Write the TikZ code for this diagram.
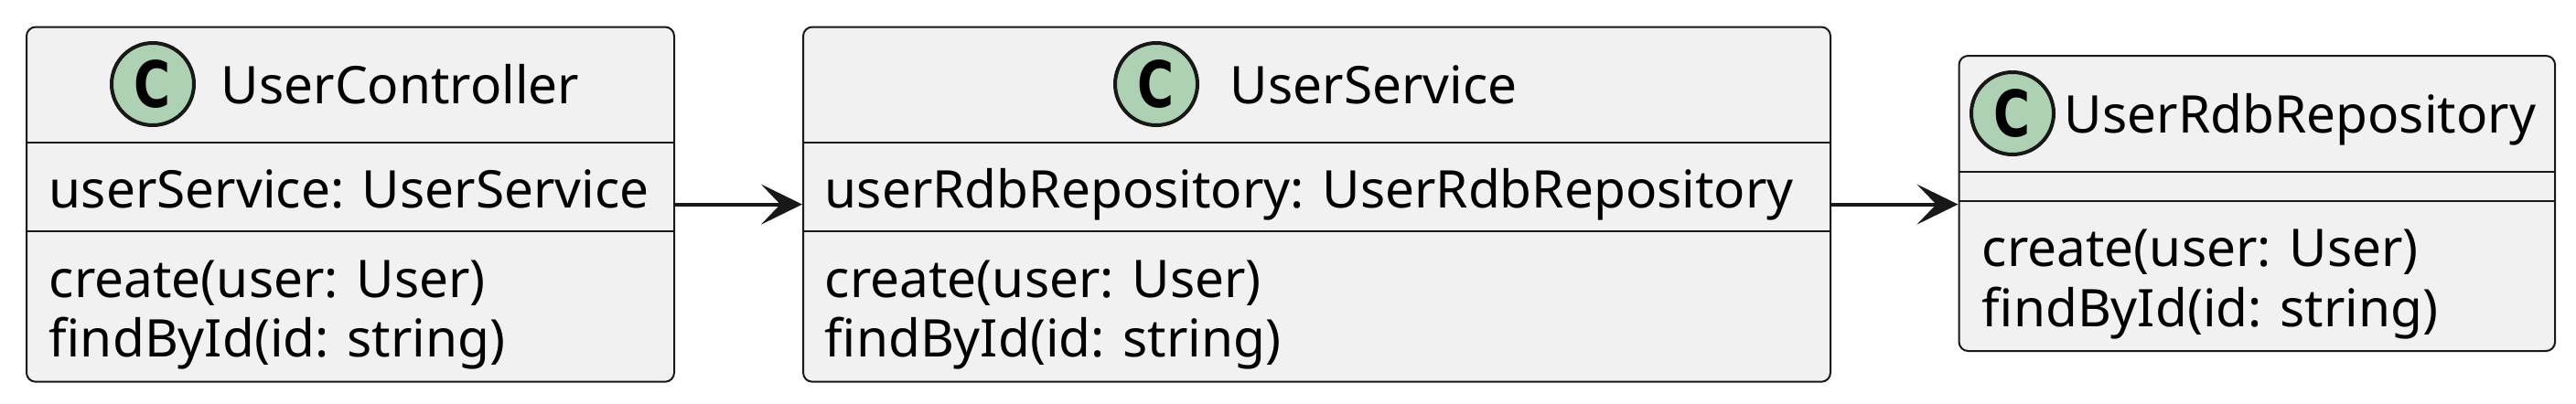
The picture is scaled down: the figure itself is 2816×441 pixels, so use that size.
\documentclass[tikz,border=0pt]{standalone}
\usepackage{fontspec}
\usepackage{graphicx}
\setmainfont{Noto Sans}
\newfontfamily\spotfont{DejaVu Sans}
\usetikzlibrary{arrows.meta}
\definecolor{boxfill}{HTML}{F1F1F1}
\definecolor{boxline}{HTML}{181818}
\definecolor{spotfill}{HTML}{ADD1B2}
\tikzset{
  classbox/.style={draw=boxline, line width=0.5pt, fill=boxfill, rounded corners=2.5pt,
    rectangle, anchor=north west, inner sep=0pt},
  sepline/.style={draw=boxline, line width=0.5pt},
  spot/.style={circle, draw=boxline, line width=1pt, fill=spotfill, minimum size=22.5pt,
    inner sep=0pt, font=\spotfont\bfseries\fontsize{17.5}{18}\selectfont},
  txt/.style={anchor=base west, inner sep=0pt, font=\fontsize{14.2}{16}\selectfont, text=black},
  conn/.style={draw=boxline, line width=1pt, -{Stealth[length=11.25pt, width=11pt, inset=5.25pt]}},
}
\begin{document}
\begin{tikzpicture}[x=0.25pt, y=-0.25pt]
\useasboundingbox (0,0) rectangle (2816,441);
% boxes
\node[classbox, minimum width=177pt, minimum height=97.05pt] (uc) at (28,28.5) {};
\node[classbox, minimum width=280.75pt, minimum height=97.05pt] (us) at (877,28.5) {};
\node[classbox, minimum width=162.9pt, minimum height=80.75pt] (repo) at (2140.5,60) {};
% separators
\draw[sepline] (uc.west |- 0,156) -- (uc.east |- 0,156);
\draw[sepline] (uc.west |- 0,253.3) -- (uc.east |- 0,253.3);
\draw[sepline] (us.west |- 0,156) -- (us.east |- 0,156);
\draw[sepline] (us.west |- 0,253.3) -- (us.east |- 0,253.3);
\draw[sepline] (repo.west |- 0,188) -- (repo.east |- 0,188);
\draw[sepline] (repo.west |- 0,220) -- (repo.east |- 0,220);
% spots
\node[spot] (ucC) at (167,92) {\scalebox{0.78}[1]{C}};
\node[spot] (usC) at (1264,92) {\scalebox{0.78}[1]{C}};
\node[spot] (repoC) at (2200,124) {\scalebox{0.78}[1]{C}};
% titles
\node[txt] (ucT) at (241,113) {UserController};
\node[txt] (usT) at (1344,113) {UserService};
\node[txt] (repoT) at (2256,145) {UserRdbRepository};
% attributes
\node[txt] (ucA) at (53,227) {userService: UserService};
\node[txt] (usA) at (901,227) {userRdbRepository: UserRdbRepository};
% methods
\node[txt] (ucM1) at (53,325) {create(user: User)};
\node[txt] (ucM2) at (53,390) {findById(id: string)};
\node[txt] (usM1) at (901,325) {create(user: User)};
\node[txt] (usM2) at (901,390) {findById(id: string)};
\node[txt] (repoM1) at (2166,291) {create(user: User)};
\node[txt] (repoM2) at (2166,357) {findById(id: string)};
% connectors
\draw[conn] (uc.east) -- (us.west);
\draw[conn] (us.east) -- (us.east -| repo.west);
\end{tikzpicture}
\end{document}
